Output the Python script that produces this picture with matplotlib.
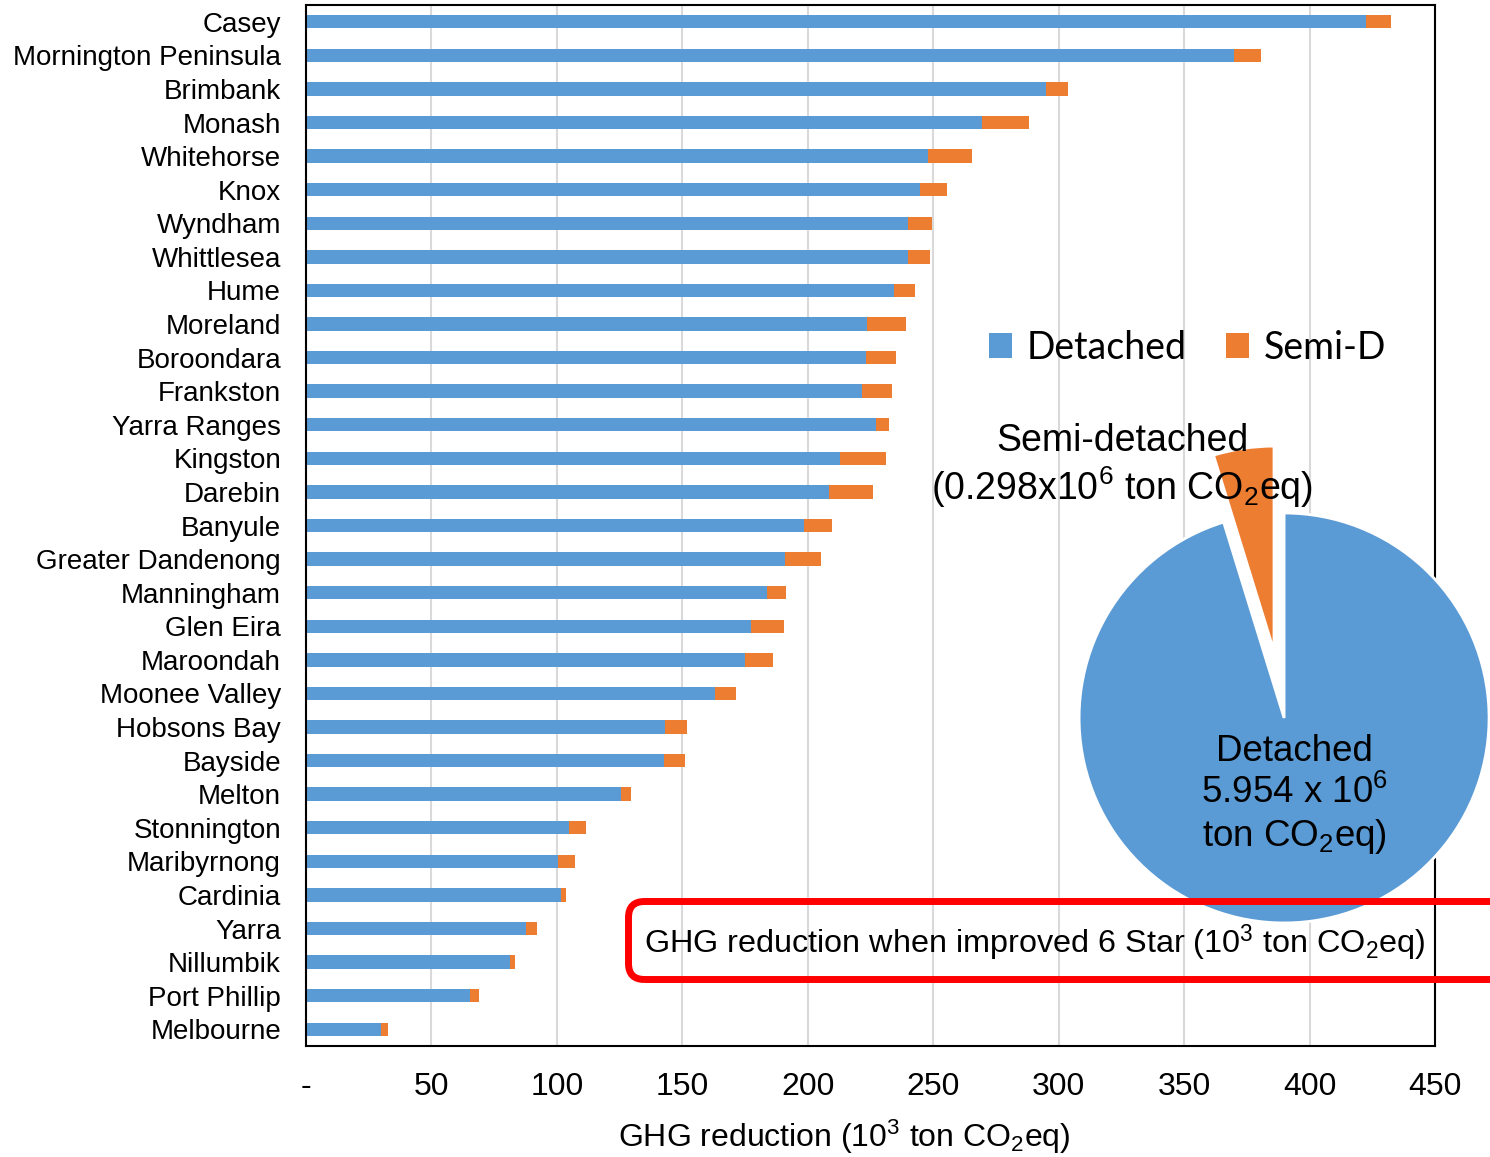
import matplotlib
matplotlib.use('Agg')
import matplotlib.pyplot as plt
from matplotlib.patches import FancyBboxPatch

# GHG reduction per council (10^3 ton CO2eq), top to bottom
councils = ['Casey', 'Mornington Peninsula', 'Brimbank', 'Monash', 'Whitehorse',
            'Knox', 'Wyndham', 'Whittlesea', 'Hume', 'Moreland', 'Boroondara',
            'Frankston', 'Yarra Ranges', 'Kingston', 'Darebin', 'Banyule',
            'Greater Dandenong', 'Manningham', 'Glen Eira', 'Maroondah',
            'Moonee Valley', 'Hobsons Bay', 'Bayside', 'Melton', 'Stonnington',
            'Maribyrnong', 'Cardinia', 'Yarra', 'Nillumbik', 'Port Phillip',
            'Melbourne']
detached = [422.4, 369.7, 294.8, 269.4, 247.9, 244.8, 240.1, 240.1, 234.2, 223.7,
            223.2, 221.7, 227.1, 213.0, 208.6, 198.4, 191.1, 183.9, 177.5, 175.0,
            163.1, 143.2, 142.7, 125.6, 105.0, 100.6, 101.5, 87.7, 81.2, 65.2, 30.0]
semi = [10.2, 10.8, 9.1, 18.8, 17.5, 10.5, 9.4, 8.8, 8.5, 15.5,
        11.8, 11.9, 5.4, 18.3, 17.3, 11.4, 14.1, 7.3, 12.9, 11.1,
        8.2, 8.5, 8.5, 4.1, 6.5, 6.5, 2.3, 4.4, 2.1, 3.9, 2.7]

# totals for the pie (10^6 ton CO2eq)
pie_labels = ['Detached', 'Semi-detached']
pie_totals = [5.954, 0.298]

xticks = [0, 50, 100, 150, 200, 250, 300, 350, 400, 450]
xtick_labels = ['-', '50', '100', '150', '200', '250', '300', '350', '400', '450']

blue = '#5B9BD5'
orange = '#ED7D31'

plt.rcParams['font.family'] = 'Liberation Sans'
plt.rcParams['mathtext.fontset'] = 'custom'
plt.rcParams['mathtext.rm'] = 'Liberation Sans'
plt.rcParams['mathtext.it'] = 'Liberation Sans:italic'
plt.rcParams['mathtext.bf'] = 'Liberation Sans:bold'

fig = plt.figure(figsize=(14.9, 11.57), dpi=100)
ax = fig.add_axes([0.2054, 0.0959, 0.7577, 0.8998])

pos = list(range(len(councils)))
ax.barh(pos, detached, height=0.4, color=blue, label='Detached', zorder=2)
ax.barh(pos, semi, left=detached, height=0.4, color=orange, label='Semi-D', zorder=2)

ax.set_ylim(len(councils) - 0.5, -0.5)
ax.set_yticks(pos)
ax.set_yticklabels(councils, fontsize=20)
ax.set_xlim(0, 450)
ax.set_xticks(xticks)
ax.set_xticklabels(xtick_labels, fontsize=23)
ax.tick_params(axis='x', length=0, pad=19)
ax.tick_params(axis='y', length=0, pad=18)
ax.xaxis.grid(True, color='#d9d9d9', linewidth=1.5)
ax.set_axisbelow(True)
for s in ax.spines.values():
    s.set_linewidth(1.5)
    s.set_color('black')

ax.legend(ncol=2, frameon=False, loc='center', bbox_to_anchor=(0.7970, 0.6995),
          bbox_transform=fig.transFigure, prop={'family': 'Lato', 'size': 27},
          handlelength=0.62, handleheight=0.62, handletextpad=0.38, columnspacing=1.05)

fig.text(0.5664, 0.0175, 'GHG reduction (10$^3$ ton CO$_2$eq)', fontsize=23,
         ha='center', va='center')

# pie of total reduction, overlaid on the right of the bars
pax = fig.add_axes([0.6554, 0.1137, 0.4128, 0.5315])
pax.pie(pie_totals, colors=[blue, orange], startangle=90, counterclock=False,
        explode=[0, 0.33], wedgeprops=dict(edgecolor='white', linewidth=2))
pax.set_xlim(-1.5, 1.5)
pax.set_ylim(-1.5, 1.5)
pax.axis('off')
pax.text(0.05, -0.376, 'Detached\n%.3f x 10$^6$\nton CO$_2$eq)' % pie_totals[0],
         fontsize=26.5, ha='center', va='center', linespacing=1.2)
pax.text(-0.79, 1.225, 'Semi-detached\n(%.3fx10$^6$ ton CO$_2$eq)' % pie_totals[1],
         fontsize=27, ha='center', va='center', linespacing=1.15, clip_on=False)

# red callout box
box = FancyBboxPatch((6.285, 1.775), 9.5, 0.78,
                     boxstyle='round,pad=0,rounding_size=0.16',
                     transform=fig.dpi_scale_trans, fill=False,
                     edgecolor='red', linewidth=5)
fig.add_artist(box)
fig.text(0.4322, 0.185, 'GHG reduction when improved 6 Star (10$^3$ ton CO$_2$eq)',
         fontsize=23.3, ha='left', va='center')

fig.savefig('out.png', dpi=100)
